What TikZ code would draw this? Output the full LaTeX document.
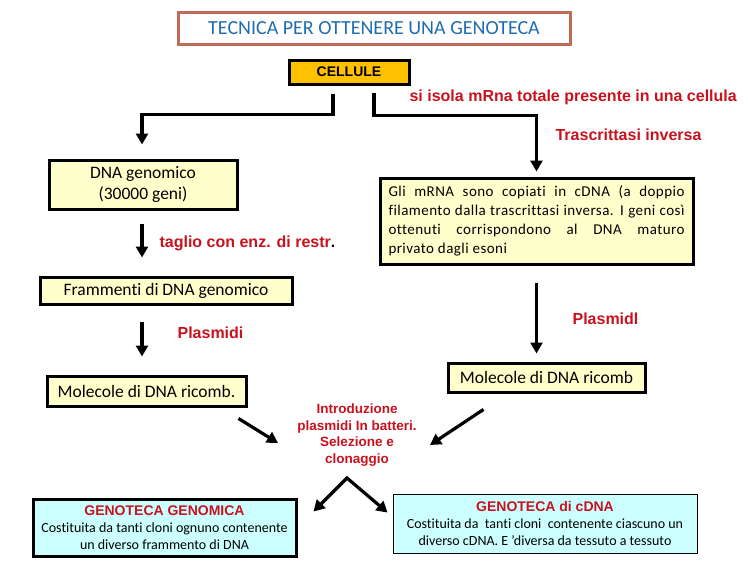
\documentclass[tikz,border=0pt]{standalone}
\usepackage{fontspec}
\setmainfont{Carlito}[Ligatures=NoCommon]
\newfontfamily\arialfont{Liberation Sans}
\usetikzlibrary{arrows.meta,calc}

\definecolor{titleblue}{RGB}{31,108,178}
\definecolor{titleframe}{RGB}{190,108,88}
\definecolor{labelred}{RGB}{200,18,30}
\definecolor{cellgold}{RGB}{255,192,0}
\definecolor{paleyellow}{RGB}{255,255,204}
\definecolor{palecyan}{RGB}{204,255,255}

\tikzset{
  box/.style={draw=black, line width=3pt, fill=paleyellow, inner sep=0pt,
    align=center, font=\fontsize{17.5}{21}\selectfont},
  titlebox/.style={draw=titleframe, line width=3pt, text=titleblue, inner sep=0pt,
    minimum width=392pt, minimum height=32pt, font=\fontsize{20}{24}\selectfont},
  cellbox/.style={draw=black, line width=3pt, fill=cellgold, inner sep=0pt,
    minimum width=120pt, minimum height=24pt, font=\arialfont\bfseries\fontsize{14}{16}\selectfont},
  redlabel/.style={text=labelred, inner sep=0pt, anchor=west,
    font=\arialfont\bfseries\fontsize{16}{18}\selectfont},
  libbox/.style={draw=black, fill=palecyan, inner sep=0pt, align=center,
    font=\fontsize{14}{17}\selectfont},
  link/.style={->},
}
\newcommand{\libtitle}[1]{{\color{labelred}\arialfont\bfseries #1}}

\begin{document}
\begin{tikzpicture}[x=1pt,y=-1pt,>={Triangle[length=11pt,width=12pt]},line width=3.2pt]
\useasboundingbox (0,0) rectangle (748,570);

% heading
\node[titlebox] (title) at (374,28) {TECNICA PER OTTENERE UNA GENOTECA};
\node[cellbox] (cell) at (349,72) {CELLULE};
\node[redlabel] (isola) at (408,97) {si isola mRna totale presente in una cellula};

% genomic branch
\node[box, minimum width=188pt, minimum height=49pt] (dnagen) at (143,184.5) {DNA genomico\\(30000 geni)};
\node[redlabel] (taglio) at (158,243) {taglio con enz. di restr\textcolor{black}{.}};
\node[box, minimum width=252pt, minimum height=27pt] (framm) at (166,290.5) {Frammenti di DNA genomico};
\node[redlabel] (plasL) at (176,333) {Plasmidi};
\node[box, minimum width=199pt, minimum height=30pt] (molL) at (146.5,391) {Molecole di DNA ricomb.};

% cDNA branch
\node[redlabel] (trasc) at (554,135) {Trascrittasi inversa};
\node[box, text width=296pt, align=justify, font=\fontsize{15}{19}\selectfont\addfontfeature{LetterSpace=3},
  minimum width=313pt, minimum height=86pt] (cdna) at (536.5,221)
  {Gli mRNA sono copiati in cDNA (a doppio\linebreak filamento dalla trascrittasi inversa. I geni così\linebreak ottenuti corrispondono al DNA maturo\linebreak privato dagli esoni};
\node[redlabel] (plasR) at (571,319) {Plasmidl};
\node[box, minimum width=197pt, minimum height=29pt] (molR) at (546.5,377.5) {Molecole di DNA ricomb};

% libraries
\node[redlabel, anchor=center, align=center, font=\arialfont\bfseries\fontsize{13.5}{16.5}\selectfont]
  (intro) at (357,435) {Introduzione\\plasmidi In batteri.\\Selezione e\\clonaggio};
\node[libbox, line width=3pt, minimum width=263pt, minimum height=57pt] (genL) at (164.5,527.5)
  {\libtitle{GENOTECA GENOMICA}\\Costituita da tanti cloni ognuno contenente\\un diverso frammento di DNA};
\node[libbox, line width=0.8pt, minimum width=304pt, minimum height=59pt] (genR) at (545,523.5)
  {\libtitle{GENOTECA di cDNA}\\Costituita da\ \ tanti cloni\ \ contenente ciascuno un\\diverso cDNA. E ’diversa da tessuto a tessuto};

% connectors
\coordinate (colL) at (142,0);
\coordinate (cellL) at ($(cell.south)+(-16,8)$);
\coordinate (cellR) at ($(cell.south)+(25,7)$);
\draw[link, shorten >=14pt] (cellL) -- ++(0,21) -| (dnagen.north -| colL);
\draw[link, shorten >=5pt] (cellR) -- ++(0,23) -| (cdna.north);
\draw[link, shorten <=13pt, shorten >=18pt] (dnagen.south -| colL) -- (framm.north -| colL);
\draw[link, shorten <=16pt, shorten >=18pt] (framm.south -| colL) -- (molL.north -| colL);
\draw[link, shorten <=17pt, shorten >=8pt] (cdna.south) -- (cdna.south |- molR.north);
\draw[link] ($(molL.south east)+(-9,11)$) -- ($(intro.center)+(-79,8)$);
\draw[link] ($(molR.south west)+(37,16)$) -- ($(intro.center)+(73,10)$);
\draw[<->] ($(genL.north east)+(16,14)$) -- ($(intro.center)+(-10,43)$) -- ($(genR.north west)+(-5,19)$);
\end{tikzpicture}
\end{document}
